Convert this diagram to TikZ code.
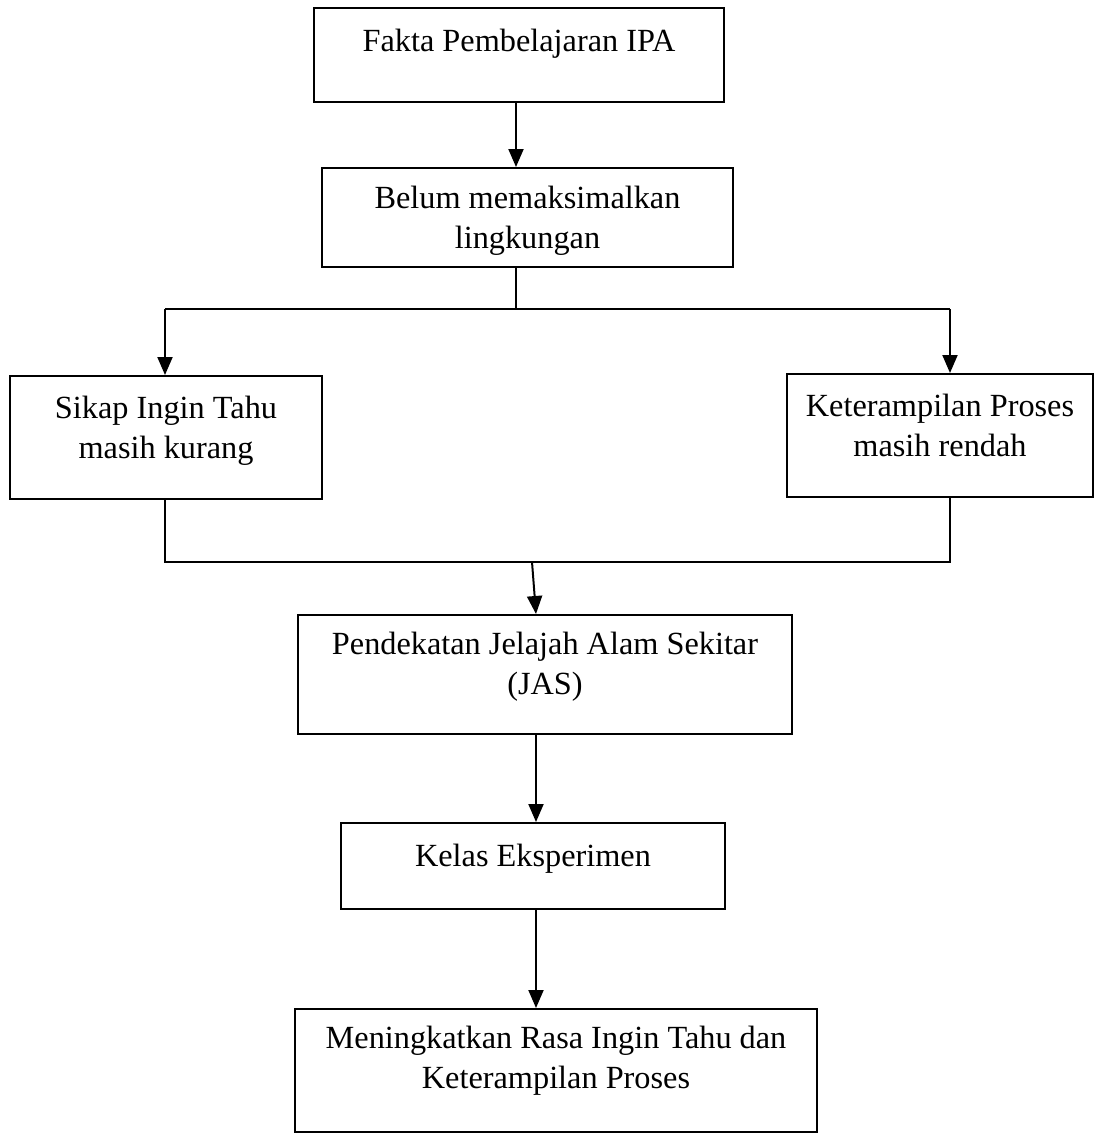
\documentclass[tikz,border=0pt]{standalone}
\usepackage{fontspec}
\setmainfont{Liberation Serif}
\usetikzlibrary{arrows.meta}
\tikzset{
  box/.style={draw, line width=2pt, inner sep=0pt, anchor=north west, fill=white},
  conn/.style={line width=2pt},
  arr/.style={line width=2pt, -{Triangle[width=15pt,length=18pt]}},
}
\newcommand{\boxtext}[4]{\parbox[c][#2pt][t]{#1pt}{\centering\rule{0pt}{#3pt}#4}}
\begin{document}
\begin{tikzpicture}[x=1pt,y=-1pt]
\useasboundingbox (0,0) rectangle (1094,1133);
\fontsize{32.3}{40}\selectfont
\node[box] (b1) at (313,7) {\boxtext{410}{94}{43}{Fakta Pembelajaran IPA}};
\node[box] (b2) at (321,167) {\boxtext{411}{99}{40}{Belum memaksimalkan\\lingkungan}};
\node[box] (b3) at (9,375) {\boxtext{312}{123}{42}{Sikap Ingin Tahu\\masih kurang}};
\node[box] (b4) at (786,373) {\boxtext{306}{123}{42}{Keterampilan Proses\\masih rendah}};
\node[box] (b5) at (297,614) {\boxtext{494}{119}{39}{Pendekatan Jelajah Alam Sekitar\\(JAS)}};
\node[box] (b6) at (340,822) {\boxtext{384}{86}{43}{Kelas Eksperimen}};
\node[box] (b7) at (294,1008) {\boxtext{522}{123}{39}{Meningkatkan Rasa Ingin Tahu dan\\Keterampilan Proses}};
% junction coordinates
\coordinate (x1) at (516,0);
\coordinate (s1) at (516,309);
\coordinate (l1) at (165,309);
\coordinate (r1) at (950,309);
\coordinate (l2) at (165,562);
\coordinate (r2) at (950,562);
\coordinate (m2) at (532,562);
\coordinate (x5) at (536,0);
% connectors
\draw[arr] (x1 |- b1.south) -- (x1 |- b2.north);
\draw[conn] (x1 |- b2.south) -- (s1);
\draw[conn] (l1) -- (r1);
\draw[arr] (l1) -- (l1 |- b3.north);
\draw[arr] (r1) -- (r1 |- b4.north);
\draw[conn] (l2 |- b3.south) -- (l2) -- (r2) -- (r2 |- b4.south);
\draw[arr] (m2) -- (x5 |- b5.north);
\draw[arr] (x5 |- b5.south) -- (x5 |- b6.north);
\draw[arr] (x5 |- b6.south) -- (x5 |- b7.north);
\end{tikzpicture}
\end{document}
